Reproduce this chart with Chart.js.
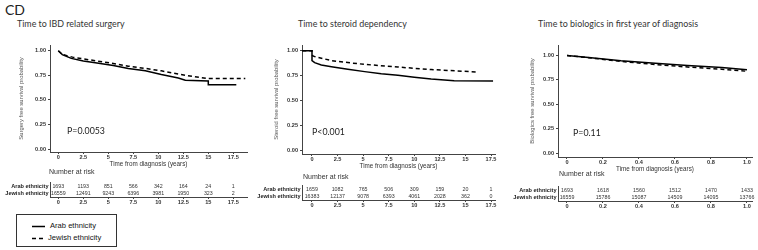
<!DOCTYPE html>
<html><head><meta charset="utf-8">
<script src="https://cdn.jsdelivr.net/npm/chart.js@4/dist/chart.umd.min.js"></script>
<style>
body{margin:0;background:#fff;width:758px;height:250px;overflow:hidden;position:relative;font-family:"Liberation Sans",Arial,sans-serif;color:#222;}
.t{position:absolute;white-space:nowrap;}
canvas{position:absolute;}
.title{font-family:Lato,"Open Sans",sans-serif;font-size:8.9px;color:#333;}
.pv{font-family:Lato,"Open Sans",sans-serif;font-size:8.8px;color:#222;}
.nar{font-size:7px;color:#333;}
#legend{position:absolute;left:16px;top:214px;width:101px;height:33px;border:1px solid #333;box-sizing:border-box;font-size:7.6px;color:#111;}
#legend svg{position:absolute;}
</style></head><body>
<script>
// ---------- DATA ----------
const yTicks = [0, 0.25, 0.5, 0.75, 1];
const seriesNames = ['Arab ethnicity', 'Jewish ethnicity'];

// Panel 1: Time to IBD related surgery
const surgTimes = [0, 2.5, 5, 7.5, 10, 12.5, 15, 17.5];
const surgArabT = [0, 0.4, 1.3, 2.5, 3.7, 5.5, 7, 8.7, 10.3, 12, 12.7, 15, 15, 17.8];
const surgArabS = [1, 0.96, 0.922, 0.895, 0.877, 0.85, 0.819, 0.795, 0.757, 0.723, 0.699, 0.692, 0.654, 0.654];
const surgJewT = [0, 0.4, 1.5, 3.7, 5.5, 7, 8.7, 10.3, 12.7, 15, 18.7];
const surgJewS = [1, 0.962, 0.932, 0.898, 0.87, 0.843, 0.82, 0.795, 0.75, 0.716, 0.716];
const surgRiskArab = [1693, 1193, 851, 566, 342, 164, 24, 1];
const surgRiskJew = [16559, 12491, 9243, 6396, 3981, 1950, 323, 2];

// Panel 2: Time to steroid dependency
const sterTimes = [0, 2.5, 5, 7.5, 10, 12.5, 15, 17.5];
const sterArabT = [-0.95, 0, 0, 0.26, 0.91, 1.9, 3.5, 5.15, 6.77, 8.4, 10.0, 11.65, 13.9, 17.7];
const sterArabS = [1, 1, 0.9, 0.879, 0.856, 0.839, 0.813, 0.789, 0.768, 0.752, 0.732, 0.715, 0.698, 0.695];
const sterJewT = [-0.95, 0, 0.05, 0.26, 1.9, 3.5, 5.15, 8.4, 11.65, 16.1];
const sterJewS = [1, 1, 0.95, 0.94, 0.9, 0.88, 0.862, 0.835, 0.81, 0.785];
const sterRiskArab = [1659, 1082, 765, 506, 309, 159, 20, 1];
const sterRiskJew = [16383, 12137, 9078, 6393, 4061, 2028, 362, 0];

// Panel 3: Time to biologics in first year of diagnosis
const bioTimes = [0, 0.2, 0.4, 0.6, 0.8, 1];
const bioArabT = [0, 0.12, 0.3, 0.49, 0.67, 0.86, 1.0];
const bioArabS = [1, 0.98, 0.947, 0.92, 0.898, 0.877, 0.855];
const bioJewT = [0, 0.12, 0.3, 0.49, 0.67, 0.86, 0.99];
const bioJewS = [1, 0.978, 0.94, 0.908, 0.882, 0.86, 0.84];
const bioRiskArab = [1693, 1618, 1560, 1512, 1470, 1433];
const bioRiskJew = [16559, 15786, 15087, 14509, 14095, 13766];

// ---------- helpers ----------
function txt(cls, s, left, top, extra) {
  const d = document.createElement('div');
  d.className = 't ' + cls; d.textContent = s;
  d.style.left = left + 'px'; d.style.top = top + 'px';
  if (extra) Object.assign(d.style, extra);
  document.body.appendChild(d); return d;
}
function cv(left, top, w, h) {
  const c = document.createElement('canvas');
  c.width = w; c.height = h; c.style.left = left + 'px'; c.style.top = top + 'px';
  c.style.width = w + 'px'; c.style.height = h + 'px';
  document.body.appendChild(c); return c;
}
const pts = (T, S) => T.map((t, i) => ({x: t, y: S[i]}));
const AX = '#444';

function km(p) {
  const c = cv(p.left, p.top, p.w, p.h);
  new Chart(c, {
    type: 'line',
    data: {datasets: [
      {label: seriesNames[0], data: pts(p.aT, p.aS), borderColor: '#000', borderWidth: 1.5, pointRadius: 0, tension: 0, fill: false},
      {label: seriesNames[1], data: pts(p.jT, p.jS), borderColor: '#000', borderWidth: 1.5, borderDash: [4, 3], pointRadius: 0, tension: 0, fill: false}
    ]},
    options: {
      responsive: false, animation: false, devicePixelRatio: 1,
      layout: {padding: {top: p.padTop, right: p.padRight, left: 0, bottom: 0}},
      plugins: {legend: {display: false}, tooltip: {enabled: false}},
      scales: {
        x: {type: 'linear', min: p.xmin, max: p.xmax,
          grid: {drawOnChartArea: false, drawTicks: true, tickLength: 2, color: AX},
          border: {color: AX, width: 1},
          ticks: {font: {size: 5.6, weight: 'bold', family: 'Liberation Sans'}, color: '#333', padding: 0, maxRotation: 0, autoSkip: false},
          afterBuildTicks: s => { s.ticks = p.xt.map(v => ({value: v})); },
          afterFit: s => { s.height = p.xh; },
          title: {display: true, text: 'Time from diagnosis (years)', font: {size: 6.3, family: 'Liberation Sans'}, color: '#333', padding: {top: 0, bottom: p.xtPad}}
        },
        y: {type: 'linear', min: p.ymin, max: p.ymax,
          grid: {drawOnChartArea: false, drawTicks: true, tickLength: 2, color: AX},
          border: {color: AX, width: 1},
          ticks: {font: {size: 5.6, weight: 'bold', family: 'Liberation Sans'}, color: '#333', padding: 2, callback: v => Number(v).toFixed(2)},
          afterBuildTicks: s => { s.ticks = yTicks.map(v => ({value: v})); },
          afterFit: s => { s.width = p.yw; },
          title: {display: true, text: p.ytitle, font: {size: 5.9, family: 'Liberation Sans'}, color: '#555', padding: {top: p.ytPad, bottom: 0}}
        }
      }
    }
  });
}

function risk(p) {
  const c = cv(p.left, p.top, p.w, p.h);
  const rows = [p.ra, p.rj];
  new Chart(c, {
    type: 'line',
    data: {labels: seriesNames, datasets: []},
    options: {
      responsive: false, animation: false, devicePixelRatio: 1,
      layout: {padding: {top: 3, right: p.padRight, left: 0, bottom: 0}},
      plugins: {legend: {display: false}, tooltip: {enabled: false}},
      scales: {
        x: {type: 'linear', min: p.xmin, max: p.xmax,
          grid: {drawOnChartArea: false, drawTicks: true, tickLength: 2, color: AX},
          border: {color: AX, width: 1},
          ticks: {font: {size: 5.6, weight: 'bold', family: 'Liberation Sans'}, color: '#333', padding: 0, maxRotation: 0, autoSkip: false},
          afterBuildTicks: s => { s.ticks = p.xt.map(v => ({value: v})); },
          afterFit: s => { s.height = 13; }
        },
        y: {type: 'category', labels: seriesNames, offset: true,
          grid: {drawOnChartArea: false, drawTicks: false, color: AX},
          border: {color: AX, width: 1},
          ticks: {font: {size: 5.6, weight: 'bold', family: 'Liberation Sans'}, color: '#222', padding: 1.5, autoSkip: false},
          afterFit: s => { s.width = p.yw; }
        }
      }
    },
    plugins: [{
      id: 'riskNums',
      afterDatasetsDraw(chart) {
        const {ctx, scales: {x, y}} = chart;
        ctx.save();
        ctx.font = '5.3px "Liberation Sans"';
        ctx.fillStyle = '#333'; ctx.textAlign = 'center'; ctx.textBaseline = 'middle';
        rows.forEach((row, i) => row.forEach((n, j) => {
          ctx.fillText(String(n), x.getPixelForValue(p.xt[j]), y.getPixelForValue(i));
        }));
        ctx.restore();
      }
    }]
  });
}

// ---------- layout ----------
txt('', 'CD', 5, 1, {fontFamily: 'Lato,"Open Sans",sans-serif', fontSize: '14px', color: '#222'});
txt('title', 'Time to IBD related surgery', 17, 18);
txt('title', 'Time to steroid dependency', 298, 18);
txt('title', 'Time to biologics in first year of diagnosis', 538, 18);

km({left: 0, top: 35, w: 250, h: 135, padTop: 10, padRight: 3, xh: 18, yw: 50, xtPad: 2, ytPad: 18,
    xmin: -0.83, xmax: 18.87, ymin: -0.0305, ymax: 1.058, xt: surgTimes,
    aT: surgArabT, aS: surgArabS, jT: surgJewT, jS: surgJewS, ytitle: 'Surgery free survival probability'});
km({left: 250, top: 35, w: 248, h: 136, padTop: 10, padRight: 3, xh: 17, yw: 52, xtPad: 1, ytPad: 23,
    xmin: -0.977, xmax: 17.89, ymin: -0.040, ymax: 1.057, xt: sterTimes,
    aT: sterArabT, aS: sterArabS, jT: sterJewT, jS: sterJewS, ytitle: 'Steroid free survival probability'});
km({left: 505, top: 35, w: 250, h: 139, padTop: 10, padRight: 3, xh: 17, yw: 53, xtPad: 1, ytPad: 24,
    xmin: -0.05, xmax: 1.028, ymin: -0.041, ymax: 1.108, xt: bioTimes,
    aT: bioArabT, aS: bioArabS, jT: bioJewT, jS: bioJewS, ytitle: 'Biologics free survival probability'});

txt('pv', 'P=0.0053', 67, 125);
txt('pv', 'P<0.001', 312, 126);
txt('pv', 'P=0.11', 573, 127);

txt('nar', 'Number at risk', 49, 168);
txt('nar', 'Number at risk', 303, 173);
txt('nar', 'Number at risk', 559, 170);

risk({left: 0, top: 178, w: 250, h: 32, padRight: 3, yw: 50, xmin: -0.83, xmax: 18.87, xt: surgTimes, ra: surgRiskArab, rj: surgRiskJew});
risk({left: 250, top: 181, w: 248, h: 32, padRight: 3, yw: 52, xmin: -0.977, xmax: 17.89, xt: sterTimes, ra: sterRiskArab, rj: sterRiskJew});
risk({left: 505, top: 182, w: 250, h: 32, padRight: 3, yw: 53, xmin: -0.05, xmax: 1.028, xt: bioTimes, ra: bioRiskArab, rj: bioRiskJew});
</script>
<div id="legend">
  <svg style="left:15px;top:10px" width="14" height="3"><line x1="0" y1="1.5" x2="13" y2="1.5" stroke="#000" stroke-width="1.5"/></svg>
  <div class="t" style="left:33px;top:6px;">Arab ethnicity</div>
  <svg style="left:15px;top:21.5px" width="14" height="3"><line x1="0" y1="1.5" x2="13" y2="1.5" stroke="#000" stroke-width="1.5" stroke-dasharray="4,3"/></svg>
  <div class="t" style="left:31px;top:18px;">Jewish ethnicity</div>
</div>
</body></html>
